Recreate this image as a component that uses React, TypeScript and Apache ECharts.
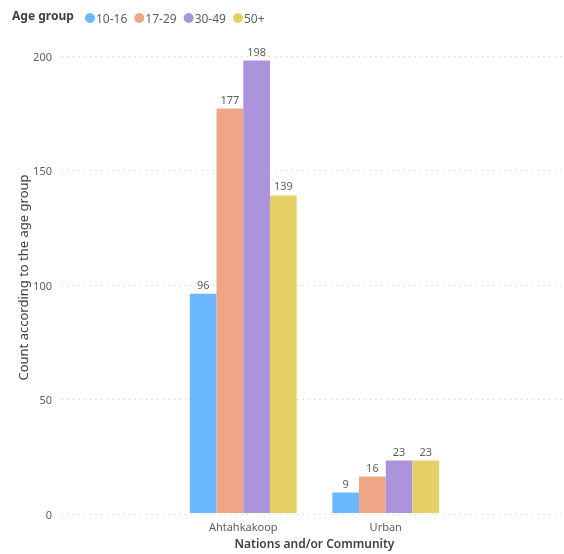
import React, { useEffect, useRef } from "react";
import * as echarts from "echarts";

const categories = ["Ahtahkakoop", "Urban"];
const ageGroups = ["10-16", "17-29", "30-49", "50+"];
const counts10to16 = [96, 9];
const counts17to29 = [177, 16];
const counts30to49 = [198, 23];
const counts50plus = [139, 23];
const yTicks = { min: 0, max: 200, interval: 50 };

const colors = ["#6CB8FF", "#EEA686", "#AC94DD", "#E6D066"];
const FONT = "'Segoe UI', 'Noto Sans', sans-serif";

export default function App() {
  const ref = useRef<HTMLDivElement>(null);

  useEffect(() => {
    if (!ref.current) return;
    const chart = echarts.init(ref.current, undefined, { renderer: "svg" });
    const seriesValues = [counts10to16, counts17to29, counts30to49, counts50plus];

    chart.setOption({
      animation: false,
      textStyle: { fontFamily: FONT },
      title: {
        text: "Age group",
        left: 7,
        top: 4,
        textStyle: { fontFamily: FONT, fontSize: 12, fontWeight: "bold", color: "#404040" },
      },
      legend: {
        left: 80,
        top: 7,
        icon: "circle",
        itemWidth: 10,
        itemHeight: 10,
        itemGap: 7,
        data: ageGroups,
        textStyle: { fontFamily: FONT, fontSize: 12, color: "#605E5C", padding: [0, 0, 0, -4] },
      },
      grid: [
        { left: 62, right: 0, top: 56, bottom: 40, containLabel: false },
        { left: 172, right: 107, top: 56, bottom: 40, containLabel: false },
      ],
      xAxis: [
        { gridIndex: 0, type: "value", show: false, min: 0, max: 1 },
        {
          gridIndex: 1,
          type: "category",
          data: categories,
          axisLine: { show: false },
          axisTick: { show: false },
          axisLabel: { color: "#605E5C", fontSize: 11, margin: 8, fontFamily: FONT },
          name: "Nations and/or Community",
          nameLocation: "middle",
          nameGap: 23,
          nameTextStyle: { color: "#404040", fontSize: 12, fontWeight: 600, fontFamily: FONT },
        },
      ],
      yAxis: [
        {
          gridIndex: 0,
          type: "value",
          min: yTicks.min,
          max: yTicks.max,
          interval: yTicks.interval,
          axisLine: { show: false },
          axisTick: { show: false },
          axisLabel: { color: "#605E5C", fontSize: 11, margin: 10, fontFamily: FONT },
          splitLine: { lineStyle: { color: "#C8C8C8", type: [1, 4.6], width: 1 } },
          name: "Count according to the age group",
          nameLocation: "middle",
          nameGap: 33,
          nameMoveOverlap: false,
          nameTextStyle: { color: "#404040", fontSize: 13, fontFamily: FONT, padding: [0, 0, 0, 15] },
        },
        { gridIndex: 1, type: "value", min: yTicks.min, max: yTicks.max, show: false },
      ],
      series: ageGroups.map((name, i) => ({
        name,
        type: "bar",
        xAxisIndex: 1,
        yAxisIndex: 1,
        data: seriesValues[i],
        itemStyle: { color: colors[i] },
        barGap: "0%",
        barCategoryGap: "25%",
        label: {
          show: true,
          position: "top",
          distance: 4,
          color: "#605E5C",
          fontSize: 11,
          fontFamily: FONT,
        },
      })),
    });

    return () => chart.dispose();
  }, []);

  return (
    <div
      ref={ref}
      style={{ position: "fixed", left: 0, top: 0, width: 564, height: 554 }}
    />
  );
}
